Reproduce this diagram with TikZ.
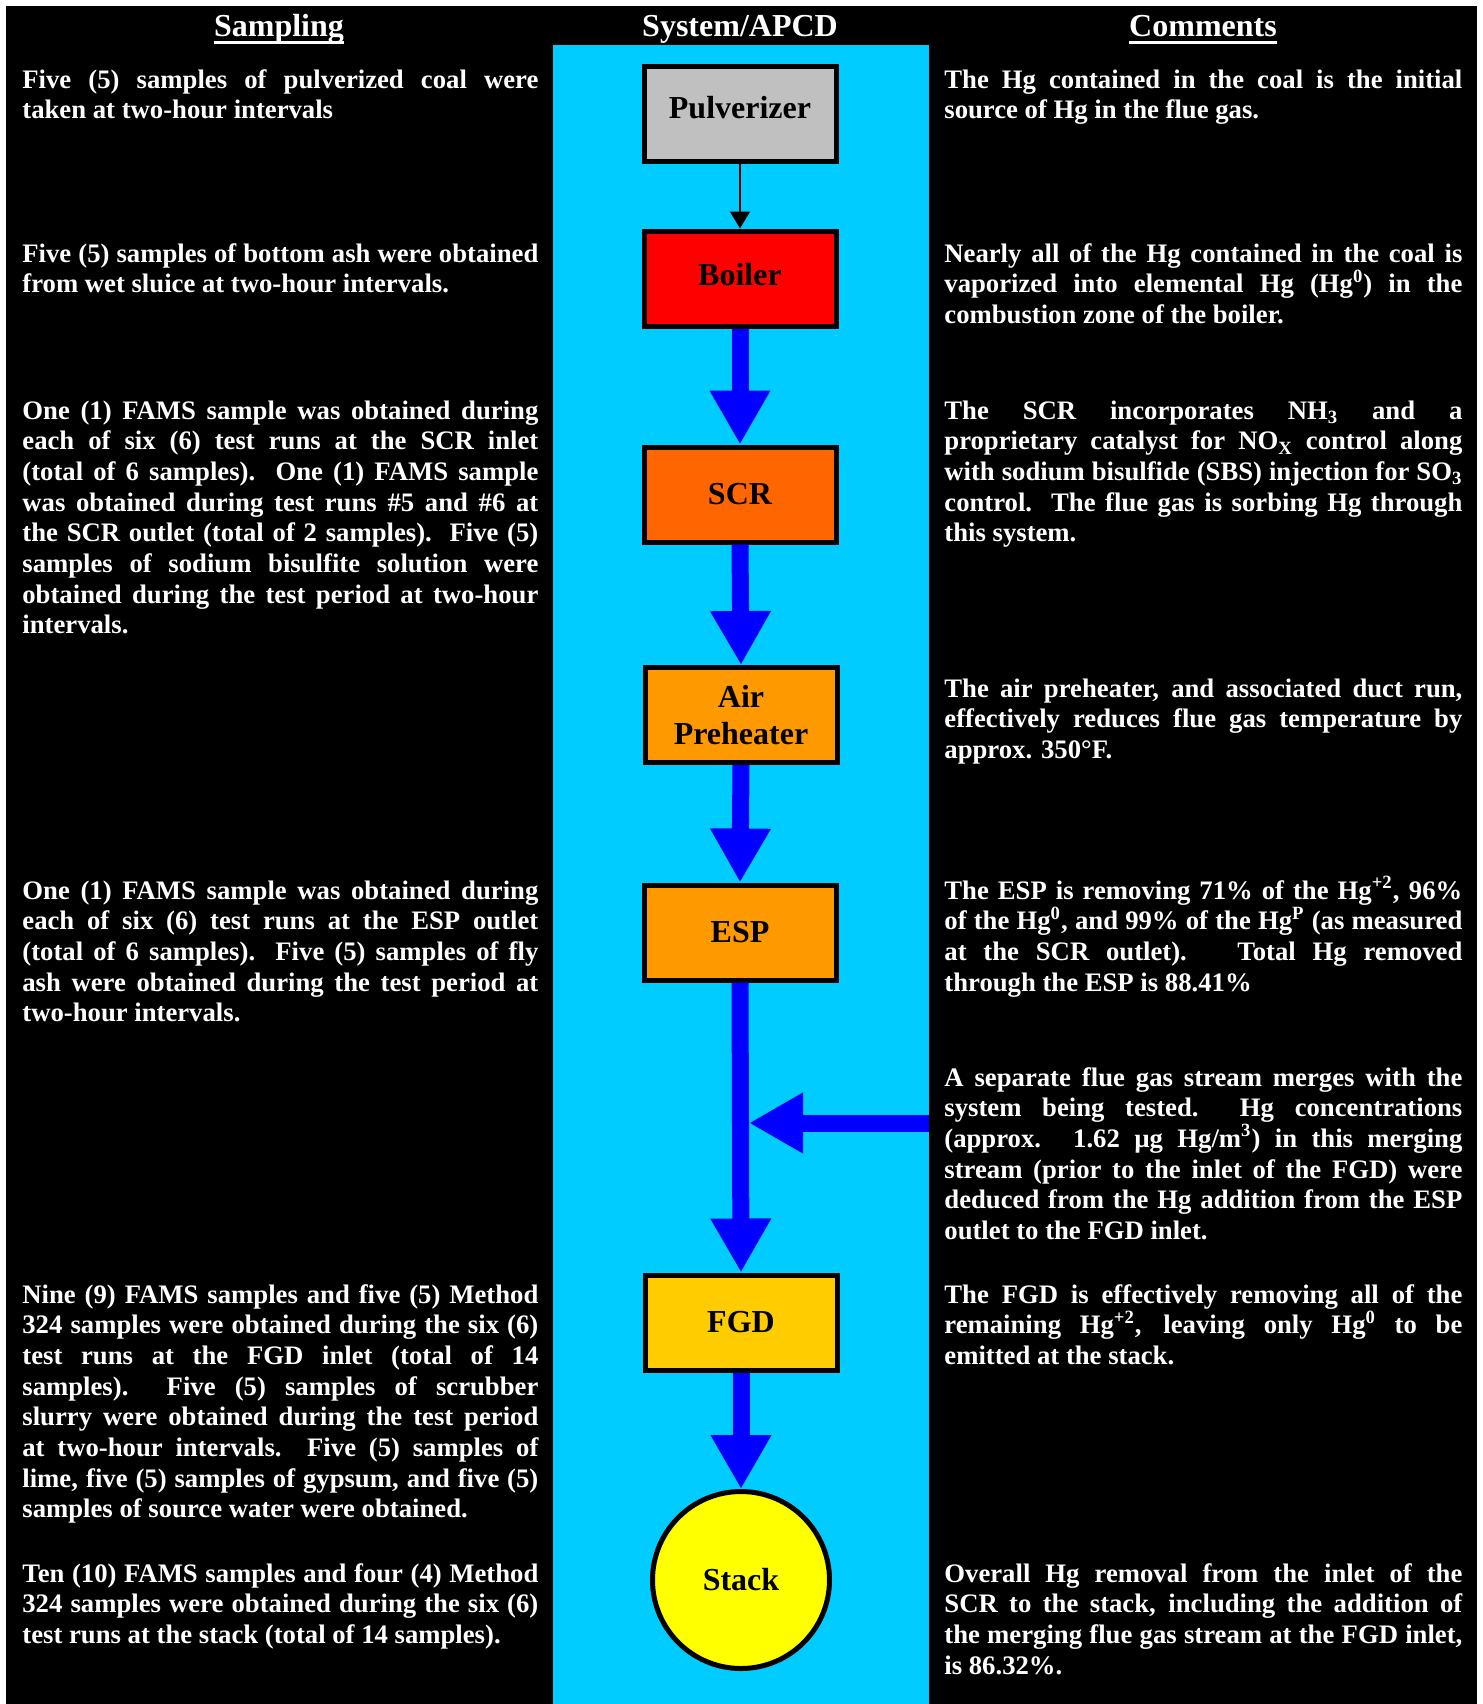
\documentclass[tikz,border=0pt]{standalone}
\usepackage{fontspec}
\setmainfont{Liberation Serif}
\usetikzlibrary{arrows.meta}
\definecolor{cyanbg}{HTML}{00CCFF}
\definecolor{pulvgray}{HTML}{C0C0C0}
\definecolor{boilred}{HTML}{FF0000}
\definecolor{scrorange}{HTML}{FF6600}
\definecolor{aphorange}{HTML}{FF9900}
\definecolor{fgdgold}{HTML}{FFCC00}
\definecolor{stackyellow}{HTML}{FFFF00}
\definecolor{flowblue}{HTML}{0000FF}
\newcommand{\parasetup}{\hyphenpenalty=10000\relax\exhyphenpenalty=10000\relax\tolerance=10000\relax}
\tikzset{
  unitbox/.style={draw=black, line width=2.5pt, minimum width=96pt, minimum height=47.5pt, inner sep=0pt, font=\fontsize{16pt}{18.5pt}\selectfont\bfseries, align=center},
  stackcirc/.style={circle, draw=black, line width=2.5pt, fill=stackyellow, minimum size=88.5pt, inner sep=0pt, font=\fontsize{16pt}{18.5pt}\selectfont\bfseries},
  para/.style={anchor=base west, inner sep=0pt, align=justify, text=white, font=\fontsize{13.35pt}{15.35pt}\selectfont\bfseries\parasetup},
  lpara/.style={para, text width=258pt},
  rpara/.style={para, text width=259pt},
  header/.style={anchor=base, inner sep=0pt, text=white, font=\fontsize{16pt}{18pt}\selectfont\bfseries},
  uline/.style={draw=white, line width=1.5pt},
  thinflow/.style={draw=black, line width=0.75pt, -{Triangle[length=8.5pt,width=10pt]}},
  flow/.style={draw=flowblue, line width=8.5pt, -{Triangle[length=27pt,width=28.5pt]}},
}
\begin{document}
\begin{tikzpicture}[x=0.5pt,y=-0.5pt]
\useasboundingbox (0,0) rectangle (1483,1704);
\fill[white] (0,0) rectangle (1483,1704);
\fill[black] (6,6) rectangle (1477,1704);
\fill[cyanbg] (553,44.5) rectangle (929,1704);

% headers
\node[header] (hs) at (279,36) {Sampling};
\node[header] (hsys) at (740,36) {System/APCD};
\node[header] (hc) at (1203,36) {Comments};
\draw[uline] ([yshift=-3pt]hs.base west) -- ([yshift=-3pt]hs.base east);
\draw[uline] ([yshift=-3pt]hc.base west) -- ([yshift=-3pt]hc.base east);

% system nodes
\node[unitbox, fill=pulvgray, text height=11pt, text depth=6.5pt] (pulv) at (740,113.5) {Pulverizer};
\node[unitbox, fill=boilred, text height=11pt, text depth=4pt] (boil) at (740,278.5) {Boiler};
\node[unitbox, fill=scrorange] (scr) at (740,494.5) {SCR};
\node[unitbox, fill=aphorange] (aph) at (741,715) {Air\\Preheater};
\node[unitbox, fill=aphorange] (esp) at (740,932.5) {ESP};
\node[unitbox, fill=fgdgold] (fgd) at (741,1322.5) {FGD};
\node[stackcirc] (stack) at (741,1580) {Stack};

% connectors
\draw[thinflow] (pulv.south) -- (boil.north);
\draw[flow] (boil.south) -- (scr.north);
\draw[flow] (scr.south) -- (aph.north);
\draw[flow] (aph.south) -- (esp.north);
\draw[flow] (esp.south) -- (fgd.north);
\draw[flow] (fgd.south) -- (stack.north);
\coordinate (msrc) at (929,1123);
\coordinate (mtip) at (749,1123);
\draw[flow] (msrc) -- (mtip);

% sampling column
\node[lpara] (s1) at (22,88) {Five (5) samples of pulverized coal were\linebreak taken at two-hour intervals};
\node[lpara] (s2) at (22,262) {Five (5) samples of bottom ash were obtained\linebreak from wet sluice at two-hour intervals.};
\node[lpara] (s3) at (22,419) {One (1) FAMS sample was obtained during\linebreak each of six (6) test runs at the SCR inlet\linebreak (total of 6 samples).\ \ One (1) FAMS sample\linebreak was obtained during test runs \#5 and \#6 at\linebreak the SCR outlet (total of 2 samples).\ \ Five (5)\linebreak samples of sodium bisulfite solution were\linebreak obtained during the test period at two-hour\linebreak intervals.};
\node[lpara] (s4) at (22,899) {One (1) FAMS sample was obtained during\linebreak each of six (6) test runs at the ESP outlet\linebreak (total of 6 samples).\ \ Five (5) samples of fly\linebreak ash were obtained during the test period at\linebreak two-hour intervals.};
\node[lpara] (s5) at (22,1303) {Nine (9) FAMS samples and five (5) Method\linebreak 324 samples were obtained during the six (6)\linebreak test runs at the FGD inlet (total of 14\linebreak samples).\ \ Five (5) samples of scrubber\linebreak slurry were obtained during the test period\linebreak at two-hour intervals.\ \ Five (5) samples of\linebreak lime, five (5) samples of gypsum, and five (5)\linebreak samples of source water were obtained.};
\node[lpara] (s6) at (22,1582) {Ten (10) FAMS samples and four (4) Method\linebreak 324 samples were obtained during the six (6)\linebreak test runs at the stack (total of 14 samples).};

% comments column
\node[rpara] (c1) at (944,88) {The Hg contained in the coal is the initial\linebreak source of Hg in the flue gas.};
\node[rpara] (c2) at (944,262) {Nearly all of the Hg contained in the coal is\linebreak vaporized into elemental Hg (Hg\textsuperscript{0}) in the\linebreak combustion zone of the boiler.};
\node[rpara] (c3) at (944,419) {The SCR incorporates NH\textsubscript{3} and a\linebreak proprietary catalyst for NO\textsubscript{X} control along\linebreak with sodium bisulfide (SBS) injection for SO\textsubscript{3}\linebreak control.\ \ The flue gas is sorbing Hg through\linebreak this system.};
\node[rpara] (c4) at (944,697) {The air preheater, and associated duct run,\linebreak effectively reduces flue gas temperature by\linebreak approx. 350°F.};
\node[rpara] (c5) at (944,899) {The ESP is removing 71\% of the Hg\textsuperscript{+2}, 96\%\linebreak of the Hg\textsuperscript{0}, and 99\% of the Hg\textsuperscript{P} (as measured\linebreak at the SCR outlet).\ \ \ Total Hg removed\linebreak through the ESP is 88.41\%};
\node[rpara] (c6) at (944,1086) {A separate flue gas stream merges with the\linebreak system being tested.\ \ Hg concentrations\linebreak (approx. 1.62 µg Hg/m\textsuperscript{3}) in this merging\linebreak stream (prior to the inlet of the FGD) were\linebreak deduced from the Hg addition from the ESP\linebreak outlet to the FGD inlet.};
\node[rpara] (c7) at (944,1303) {The FGD is effectively removing all of the\linebreak remaining Hg\textsuperscript{+2}, leaving only Hg\textsuperscript{0} to be\linebreak emitted at the stack.};
\node[rpara] (c8) at (944,1582) {Overall Hg removal from the inlet of the\linebreak SCR to the stack, including the addition of\linebreak the merging flue gas stream at the FGD inlet,\linebreak is 86.32\%.};
\end{tikzpicture}
\end{document}
